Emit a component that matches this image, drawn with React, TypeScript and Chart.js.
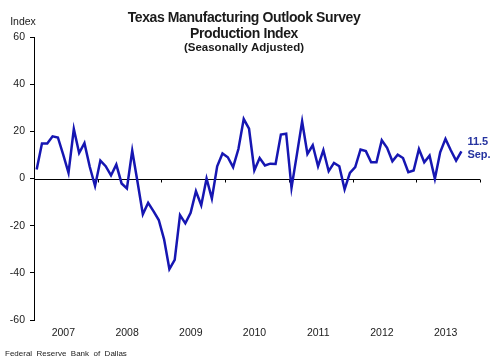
import React, { useEffect, useRef } from 'react';
import { Chart, registerables } from 'chart.js';

Chart.register(...registerables);

const years = ['2007', '2008', '2009', '2010', '2011', '2012', '2013'];
const monthNames = ['Jan', 'Feb', 'Mar', 'Apr', 'May', 'Jun', 'Jul', 'Aug', 'Sep', 'Oct', 'Nov', 'Dec'];

const values2007 = [3.8, 14.8, 14.8, 17.9, 17.4, 10.1, 2.4, 21.0, 10.8, 15.0, 5.0, -3.2];
const values2008 = [7.6, 5.2, 1.3, 5.9, -2.1, -4.2, 11.8, -1.5, -15.2, -10.3, -13.8, -17.6];
const values2009 = [-25.8, -38.4, -34.5, -15.5, -19.0, -14.5, -5.4, -11.3, 0.0, -8.5, 5.2, 10.6];
const values2010 = [9.0, 4.8, 12.5, 25.2, 21.1, 3.5, 8.7, 5.5, 6.3, 6.2, 18.6, 19.0];
const values2011 = [-3.9, 10.0, 24.2, 10.4, 14.1, 5.2, 12.0, 3.1, 6.6, 5.2, -4.6, 2.4];
const values2012 = [4.8, 12.3, 11.6, 6.9, 6.9, 16.2, 13.0, 7.3, 10.1, 8.7, 2.7, 3.4];
const values2013 = [12.5, 6.9, 9.7, -0.1, 11.1, 16.8, 12.0, 7.6, 11.5];

const production = [
  ...values2007, ...values2008, ...values2009, ...values2010,
  ...values2011, ...values2012, ...values2013,
];

const monthLabels = years.flatMap((y) => monthNames.map((m) => `${m} ${y}`));

const titleLines = ['Texas Manufacturing Outlook Survey', 'Production Index'];
const subtitleText = '(Seasonally Adjusted)';
const yAxisTitle = 'Index';
const sourceText = 'Federal  Reserve  Bank  of  Dallas';

const Y_MIN = -60;
const Y_MAX = 60;
const Y_STEP = 20;

const FONT = '"Liberation Sans", Arial, sans-serif';
const LINE_COLOR = 'rgb(22,22,178)';
const NOTE_COLOR = 'rgb(38,52,160)';
const TEXT_COLOR = '#1a1a1a';

const decorPlugin = {
  id: 'decor',
  beforeDatasetsDraw(chart: any) {
    const { ctx, chartArea } = chart;
    const y = chart.scales.y;
    const m = chart.scales.m;
    const y0 = Math.round(y.getPixelForValue(0)) + 0.5;
    ctx.save();
    ctx.strokeStyle = '#000';
    ctx.lineWidth = 1;
    ctx.beginPath();
    ctx.moveTo(chartArea.left, y0);
    ctx.lineTo(chartArea.right, y0);
    for (let i = 12; i <= monthLabels.length; i += 12) {
      const x = Math.round(m.getPixelForValue(i - 0.5)) + 0.5;
      ctx.moveTo(x, y0);
      ctx.lineTo(x, y0 + 3);
    }
    ctx.stroke();
    ctx.restore();
  },
  afterDraw(chart: any) {
    const { ctx, width } = chart;
    const y = chart.scales.y;
    const m = chart.scales.m;
    ctx.save();
    ctx.fillStyle = TEXT_COLOR;
    ctx.textAlign = 'center';
    ctx.textBaseline = 'middle';
    const cx = width / 2 - 6;
    ctx.font = `bold 14px ${FONT}`;
    try { (ctx as any).letterSpacing = '-0.4px'; } catch (e) {}
    ctx.fillText(titleLines[0], cx, 18.5);
    ctx.fillText(titleLines[1], cx, 34.5);
    try { (ctx as any).letterSpacing = '0px'; } catch (e) {}
    ctx.font = `bold 11.5px ${FONT}`;
    ctx.fillText(subtitleText, cx, 48);

    ctx.font = `10.5px ${FONT}`;
    ctx.textAlign = 'center';
    ctx.fillText(yAxisTitle, 23, 22);

    ctx.font = `8px ${FONT}`;
    ctx.textAlign = 'left';
    ctx.fillText(sourceText, 5, 353.5);

    const last = production.length - 1;
    const lx = m.getPixelForValue(last) + 6;
    const ly = y.getPixelForValue(production[last]);
    ctx.fillStyle = NOTE_COLOR;
    ctx.font = `bold 11px ${FONT}`;
    ctx.textAlign = 'left';
    ctx.fillText(String(production[last]), lx, ly - 9);
    ctx.fillText(`${monthNames[last % 12]}.`, lx, ly + 3.5);
    ctx.restore();
  },
};

export default function App() {
  const ref = useRef<HTMLCanvasElement | null>(null);
  useEffect(() => {
    document.body.style.margin = '0';
    const canvas = ref.current;
    if (!canvas) return;
    const chart = new Chart(canvas, {
      type: 'line',
      data: {
        labels: monthLabels,
        datasets: [
          {
            label: 'Production Index',
            data: production,
            xAxisID: 'm',
            yAxisID: 'y',
            borderColor: LINE_COLOR,
            borderWidth: 2.5,
            pointRadius: 0,
            tension: 0,
            fill: false,
            borderJoinStyle: 'miter',
          },
        ],
      },
      options: {
        animation: false,
        responsive: false,
        maintainAspectRatio: false,
        events: [],
        layout: { padding: { top: 37, right: 20, bottom: 0, left: 0 } },
        plugins: {
          legend: { display: false },
          title: { display: false },
          tooltip: { enabled: false },
        },
        scales: {
          m: {
            type: 'category',
            labels: monthLabels,
            offset: true,
            display: false,
          },
          x: {
            type: 'category',
            labels: years,
            offset: true,
            position: 'bottom',
            grid: { display: false, drawTicks: false },
            border: { display: false },
            ticks: {
              autoSkip: false,
              maxRotation: 0,
              padding: 7,
              labelOffset: -2.5,
              color: TEXT_COLOR,
              font: { family: FONT, size: 10.5 },
            },
            afterFit: (scale: any) => {
              scale.height = 43;
            },
          },
          y: {
            type: 'linear',
            min: Y_MIN,
            max: Y_MAX,
            position: 'left',
            grid: {
              drawOnChartArea: false,
              drawTicks: true,
              tickLength: 4,
              color: '#000',
            },
            border: { display: true, color: '#000', width: 1 },
            ticks: {
              stepSize: Y_STEP,
              padding: 5,
              color: TEXT_COLOR,
              font: { family: FONT, size: 10.5 },
            },
            afterFit: (scale: any) => {
              scale.width = 34;
            },
          },
        },
      },
      plugins: [decorPlugin],
    } as any);
    return () => chart.destroy();
  }, []);
  return (
    <div style={{ width: 500, height: 363, background: '#fff' }}>
      <canvas ref={ref} width={500} height={363} style={{ display: 'block', width: 500, height: 363 }} />
    </div>
  );
}
